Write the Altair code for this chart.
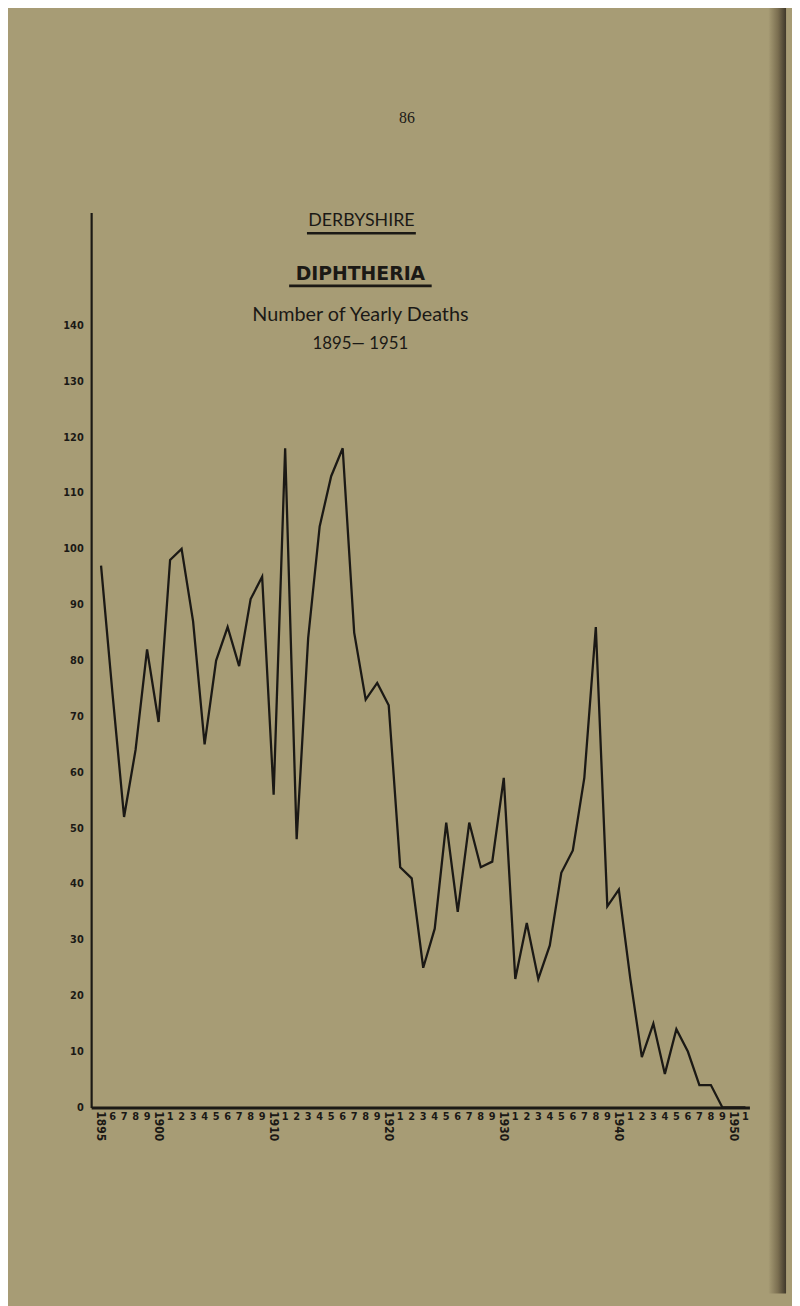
import altair as alt
import pandas as pd

years = list(range(1895, 1952))
deaths = [97, 74, 52, 64, 82, 69, 98, 100, 87, 65,
          80, 86, 79, 91, 95, 56, 118, 48, 84, 104,
          113, 118, 85, 73, 76, 72, 43, 41, 25, 32,
          51, 35, 51, 43, 44, 59, 23, 33, 23, 29,
          42, 46, 59, 86, 36, 39, 23, 9, 15, 6,
          14, 10, 4, 4, 0, 0, 0]
y_ticks = [0, 10, 20, 30, 40, 50, 60, 70, 80, 90, 100, 110, 120, 130, 140]
x_labels = [str(y) if (y == 1895 or y % 10 == 0) else str(y % 10) for y in years]

df = pd.DataFrame({"year": years, "deaths": deaths})
lab = pd.DataFrame({"year": years, "label": x_labels})
lab["rot"] = lab["label"].str.len() > 1

INK = "#1b1915"
BG = "#a79c75"
NARROW = "Liberation Sans Narrow, DejaVu Sans Condensed, sans-serif"

x_scale = alt.Scale(domain=[1894.14, 1951.35], nice=False, zero=False)
y_scale = alt.Scale(domain=[0, 160.2], nice=False)

W, H = 665, 904

line = alt.Chart(df).mark_line(color=INK, strokeWidth=2.3).encode(
    x=alt.X("year:Q", scale=x_scale,
            axis=alt.Axis(labels=False, ticks=False, grid=False, title=None,
                          domainColor=INK, domainWidth=3)),
    y=alt.Y("deaths:Q", scale=y_scale,
            axis=alt.Axis(values=y_ticks, title=None, grid=False, ticks=False,
                          domainColor=INK, domainWidth=2.2,
                          labelFont=NARROW, labelFontWeight="bold",
                          labelFontSize=11, labelPadding=8, labelColor=INK)),
)

digits = alt.Chart(lab).transform_filter("!datum.rot").mark_text(
    font=NARROW, fontWeight="bold", fontSize=11, color=INK,
    align="center", baseline="middle"
).encode(
    x=alt.X("year:Q", scale=x_scale),
    y=alt.value(914),
    text="label:N",
)

decades = alt.Chart(lab).transform_filter("datum.rot").mark_text(
    font=NARROW, fontWeight="bold", fontSize=12, color=INK,
    align="left", baseline="middle", angle=90
).encode(
    x=alt.X("year:Q", scale=x_scale),
    y=alt.value(908),
    text="label:N",
)

def txt(s, x, y, size, font="Lato", weight="normal"):
    return alt.Chart(pd.DataFrame({"t": [s]})).mark_text(
        font=font, fontSize=size, fontWeight=weight, color=INK,
        align="center", baseline="middle"
    ).encode(x=alt.value(x), y=alt.value(y), text="t:N")

def rule(x1, x2, y, w):
    return alt.Chart(pd.DataFrame({"a": [0]})).mark_rule(
        color=INK, strokeWidth=w
    ).encode(x=alt.value(x1), x2=alt.value(x2), y=alt.value(y))

page_no = txt("86", 319, -95, 16, font="Liberation Serif, DejaVu Serif, serif")
t1 = txt("DERBYSHIRE", 273, 9, 18)
u1 = rule(218, 328, 21, 2.5)
t2 = txt("DIPHTHERIA", 272, 62, 19, font="DejaVu Sans", weight="bold")
u2 = rule(200, 344, 74, 2.8)
t3 = txt("Number of Yearly Deaths", 272, 104, 20)
t4 = txt("1895\u2014 1951", 272, 133, 17)

edge = alt.Chart(pd.DataFrame({"a": [0]})).mark_rect(
    color=alt.LinearGradient(
        gradient="linear", x1=0, x2=1, y1=0, y2=0,
        stops=[alt.GradientStop(offset=0, color=BG),
               alt.GradientStop(offset=0.55, color="#7a6e50"),
               alt.GradientStop(offset=1, color="#3f382a")]
    )
).encode(x=alt.value(684), x2=alt.value(702), y=alt.value(-210), y2=alt.value(1092))

chart = alt.layer(
    edge, line, digits, decades, page_no, t1, u1, t2, u2, t3, t4
).properties(
    width=W, height=H,
    padding={"left": 84, "top": 200, "right": 43, "bottom": 194},
    autosize=alt.AutoSizeParams(type="none"),
    background=BG,
).configure_view(stroke=None)

chart.save("out.html", embed_options={"renderer": "svg", "actions": False})
